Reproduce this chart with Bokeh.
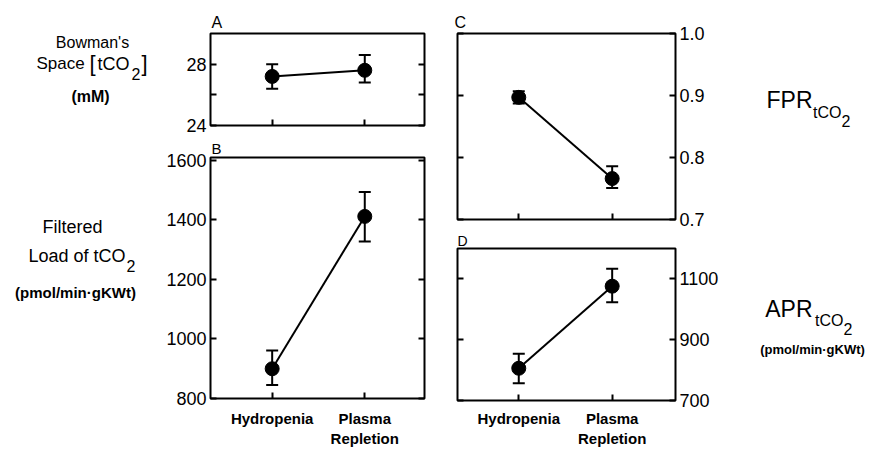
from bokeh.plotting import figure
from bokeh.layouts import row, column
from bokeh.models import (Range1d, LinearAxis, FixedTicker, Whisker, TeeHead,
                          ColumnDataSource, Label, NumeralTickFormatter)
from bokeh.embed import file_html
from bokeh.resources import INLINE

# ---------------- data ----------------
conditions = ["Hydropenia", "Plasma Repletion"]

bowman_mean = [27.2, 27.6]
bowman_lo = [26.4, 26.8]
bowman_hi = [28.0, 28.6]

load_mean = [900, 1412]
load_lo = [845, 1328]
load_hi = [961, 1494]

fpr_mean = [0.897, 0.766]
fpr_lo = [0.887, 0.751]
fpr_hi = [0.907, 0.786]

apr_mean = [806, 1076]
apr_lo = [757, 1023]
apr_hi = [854, 1133]

bowman_ticks = [24, 26, 28]
bowman_labeled = [24, 28]
load_ticks = [800, 1000, 1200, 1400, 1600]
fpr_ticks = [0.7, 0.8, 0.9, 1.0]
apr_ticks = [700, 900, 1100]

FONT = "Liberation Sans"
TOTAL_H = 450
xpos = [i + 1 for i in range(len(conditions))]


def base_fig(width, height, bl, br, bt, bb, xr, yr, letter, lsize, lstand, loff):
    p = figure(width=width, height=height, min_border_left=bl, min_border_right=br,
               min_border_top=bt, min_border_bottom=bb,
               x_range=Range1d(*xr), y_range=Range1d(*yr),
               x_axis_location=None, y_axis_location=None,
               output_backend="svg", toolbar_location=None)
    p.grid.visible = False
    p.outline_line_color = "black"
    p.outline_line_width = 2
    p.outline_line_alpha = 1
    p.background_fill_color = "white"
    p.border_fill_color = "white"
    p.title.text = letter
    p.title.align = "left"
    p.title.offset = loff
    p.title.standoff = lstand
    p.title.text_font = FONT
    p.title.text_font_size = f"{lsize}px"
    p.title.text_font_style = "normal"
    p.title.text_color = "black"
    return p


def add_axis(p, side, ticks, overrides=None, font_size="18px", show_labels=True,
             standoff=4, bold=False, fmt=None):
    ax = LinearAxis(ticker=FixedTicker(ticks=ticks, minor_ticks=[]))
    ax.axis_line_color = None
    ax.major_tick_in = 6
    ax.major_tick_out = 0
    ax.major_tick_line_width = 2
    ax.major_tick_line_color = "black"
    ax.minor_tick_line_color = None
    if fmt is not None:
        ax.formatter = fmt
    if show_labels:
        if overrides:
            ax.major_label_overrides = overrides
        ax.major_label_text_font = FONT
        ax.major_label_text_font_size = font_size
        ax.major_label_text_color = "black"
        ax.major_label_standoff = standoff
        if bold:
            ax.major_label_text_font_style = "bold"
    else:
        ax.major_label_overrides = {t: "" for t in ticks}
        ax.major_label_text_font_size = "6px"
        ax.major_label_standoff = 0
    p.add_layout(ax, side)
    return ax


def draw_series(p, mean, lo, hi):
    src = ColumnDataSource(data=dict(x=xpos, y=mean, lo=lo, hi=hi))
    p.line("x", "y", source=src, line_color="black", line_width=2)
    w = Whisker(source=src, base="x", lower="lo", upper="hi", line_color="black",
                line_width=2,
                lower_head=TeeHead(size=12, line_width=2, line_color="black"),
                upper_head=TeeHead(size=12, line_width=2, line_color="black"))
    p.add_layout(w)
    p.scatter("x", "y", source=src, size=14, fill_color="black", line_color="black")


def text_fig(width, x0, x1):
    p = figure(width=width, height=TOTAL_H, x_range=Range1d(x0, x1),
               y_range=Range1d(TOTAL_H, 0),
               min_border=0, x_axis_location=None, y_axis_location=None,
               output_backend="svg", toolbar_location=None)
    p.grid.visible = False
    p.outline_line_color = None
    p.background_fill_color = "white"
    p.border_fill_color = "white"
    return p


def put(p, px, py, text, size, align="center", style="normal"):
    p.add_layout(Label(x=px, y=py, text=text, text_align=align, text_baseline="middle",
                       text_font=FONT, text_font_size=f"{size}px",
                       text_font_style=style, text_color="black"))


cat_labels = {x: c.replace(" ", "\n") for x, c in zip(xpos, conditions)}

# ---------------- Panel A ----------------
pa = base_fig(282, 135, 52, 16, 33, 10, (0.334, 2.645), (24, 30), "A", 16, 6, 1)
draw_series(pa, bowman_mean, bowman_lo, bowman_hi)
add_axis(pa, "left", bowman_ticks,
         {t: (str(t) if t in bowman_labeled else "") for t in bowman_ticks})
add_axis(pa, "right", bowman_ticks, show_labels=False)
add_axis(pa, "below", xpos, show_labels=False)

# ---------------- Panel B ----------------
pb = base_fig(282, TOTAL_H - 135, 52, 16, 22, 52, (0.334, 2.645), (800, 1610), "B", 15, 2, 1)
draw_series(pb, load_mean, load_lo, load_hi)
add_axis(pb, "left", load_ticks)
add_axis(pb, "right", load_ticks, show_labels=False)
add_axis(pb, "below", xpos, cat_labels, font_size="15px", standoff=11, bold=True)

# ---------------- Panel C ----------------
pc = base_fig(295, 230, 17, 60, 33, 11, (0.344, 2.678), (0.7, 1.0), "C", 16, 6, -3)
draw_series(pc, fpr_mean, fpr_lo, fpr_hi)
add_axis(pc, "left", fpr_ticks, show_labels=False)
add_axis(pc, "right", fpr_ticks, fmt=NumeralTickFormatter(format="0.0"))
add_axis(pc, "below", xpos, show_labels=False)

# ---------------- Panel D ----------------
pd_ = base_fig(295, TOTAL_H - 230, 17, 60, 18, 50, (0.344, 2.678), (700, 1200), "D", 14, 0, 0)
draw_series(pd_, apr_mean, apr_lo, apr_hi)
add_axis(pd_, "left", apr_ticks, show_labels=False)
add_axis(pd_, "right", apr_ticks)
add_axis(pd_, "below", xpos, cat_labels, font_size="15px", standoff=9, bold=True)

# ---------------- side texts ----------------
tl = text_fig(158, 0, 158)
put(tl, 92, 42, "Bowman's", 16)
put(tl, 60, 63, "Space", 17)
put(tl, 89, 63, "[", 22, align="left")
put(tl, 97, 63, "tCO", 18, align="left")
put(tl, 131, 73, "2", 16, align="left")
put(tl, 141, 63, "]", 22, align="left")
put(tl, 90, 96, "(mM)", 16, style="bold")
put(tl, 72, 226, "Filtered", 18)
put(tl, 125, 255, "Load of tCO", 18, align="right")
put(tl, 126, 265, "2", 16, align="left")
put(tl, 75, 292, "(pmol/min\u00b7gKWt)", 15, style="bold")

tr = text_fig(132, 735, 867)
put(tr, 812, 99, "FPR", 23, align="right")
put(tr, 841, 112, "tCO", 16, align="right")
put(tr, 841, 120, "2", 16, align="left")
put(tr, 812, 308, "APR", 23, align="right")
put(tr, 843, 320, "tCO", 16, align="right")
put(tr, 843, 328, "2", 16, align="left")
put(tr, 812, 349, "(pmol/min\u00b7gKWt)", 13, style="bold")

layout = row(tl, column(pa, pb, spacing=0), column(pc, pd_, spacing=0), tr, spacing=0)

open("out.html", "w").write(file_html(layout, INLINE))
